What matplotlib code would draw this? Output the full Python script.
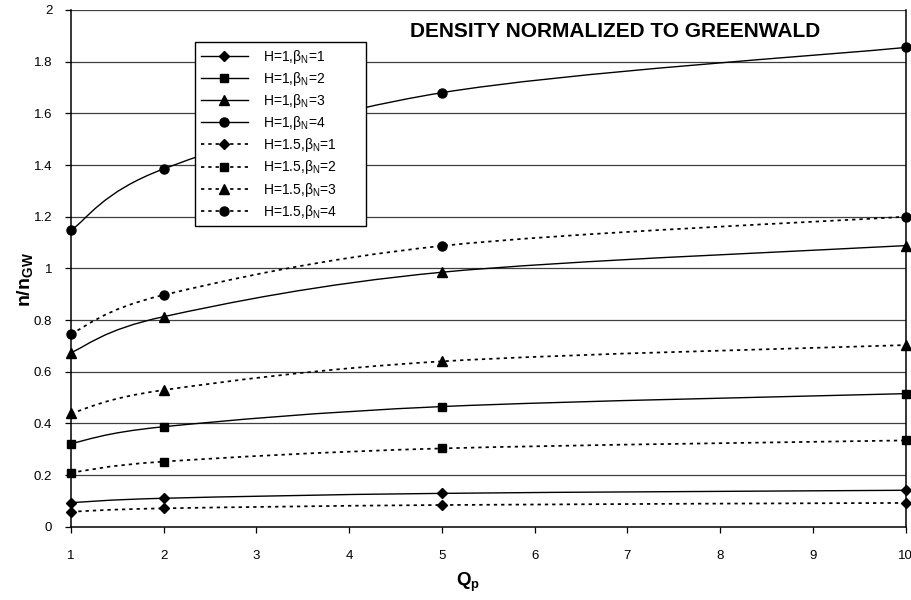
import matplotlib
matplotlib.use("Agg")
import matplotlib.pyplot as plt
from matplotlib.path import Path
from matplotlib.patches import PathPatch
from matplotlib.lines import Line2D

plt.rcParams['font.family'] = ['Liberation Sans', 'DejaVu Sans']

# Qp values and n/nGW
qp = [1, 2, 5, 10]
h1_b1 = [0.093, 0.110, 0.129, 0.141]
h1_b2 = [0.322, 0.387, 0.465, 0.515]
h1_b3 = [0.674, 0.813, 0.985, 1.088]
h1_b4 = [1.147, 1.385, 1.680, 1.855]
h15_b1 = [0.058, 0.071, 0.084, 0.092]
h15_b2 = [0.209, 0.252, 0.303, 0.334]
h15_b3 = [0.439, 0.529, 0.640, 0.703]
h15_b4 = [0.747, 0.897, 1.087, 1.200]

labels = ['H=1,β$_\\mathregular{N}$=1', 'H=1,β$_\\mathregular{N}$=2',
          'H=1,β$_\\mathregular{N}$=3', 'H=1,β$_\\mathregular{N}$=4',
          'H=1.5,β$_\\mathregular{N}$=1', 'H=1.5,β$_\\mathregular{N}$=2',
          'H=1.5,β$_\\mathregular{N}$=3', 'H=1.5,β$_\\mathregular{N}$=4']
series = [h1_b1, h1_b2, h1_b3, h1_b4, h15_b1, h15_b2, h15_b3, h15_b4]
markers = ['D', 's', '^', 'o'] * 2
msizes = {'D': 5.5, 's': 6, '^': 7, 'o': 6.5}
dotted = (0, (1.9, 2.3))
styles = ['-'] * 4 + [dotted] * 4
widths = [1.0] * 4 + [1.25] * 4


def smooth_path(x, y):
    # excel style smoothed line, bezier segments through the points
    pts = list(zip(x, y))
    verts = [pts[0]]
    codes = [Path.MOVETO]
    for i in range(len(pts) - 1):
        p0 = pts[i - 1] if i > 0 else pts[i]
        p1 = pts[i]
        p2 = pts[i + 1]
        p3 = pts[i + 2] if i + 2 < len(pts) else pts[i + 1]
        c1 = (p1[0] + (p2[0] - p0[0]) / 6, p1[1] + (p2[1] - p0[1]) / 6)
        c2 = (p2[0] - (p3[0] - p1[0]) / 6, p2[1] - (p3[1] - p1[1]) / 6)
        verts += [c1, c2, p2]
        codes += [Path.CURVE4] * 3
    return Path(verts, codes)


fig = plt.figure(figsize=(9.12, 6), dpi=100)
ax = fig.add_axes([71 / 912, 1 - 526.7 / 600, (905.7 - 71) / 912, (526.7 - 10) / 600])

ax.set_xlim(1, 10)
ax.set_ylim(0, 2)
ax.set_xticks(range(1, 11))
ax.set_yticks([0, 0.2, 0.4, 0.6, 0.8, 1, 1.2, 1.4, 1.6, 1.8, 2])
ax.set_yticklabels(['0', '0.2', '0.4', '0.6', '0.8', '1', '1.2', '1.4', '1.6', '1.8', '2'])
ax.tick_params(axis='x', direction='out', length=4, width=0.9, pad=13, labelsize=9.5)
ax.tick_params(axis='y', direction='out', length=4, width=0.9, pad=9.5, labelsize=9.5)

for v in [0.2, 0.4, 0.6, 0.8, 1, 1.2, 1.4, 1.6, 1.8, 2]:
    ax.axhline(v, color='#404040', lw=0.9, zorder=1)

for s in ['left', 'bottom', 'right']:
    ax.spines[s].set_linewidth(1.1)
    ax.spines[s].set_color('black')
ax.spines['top'].set_visible(False)

handles = []
for yv, mk, ls, lw, lab in zip(series, markers, styles, widths, labels):
    ax.add_patch(PathPatch(smooth_path(qp, yv), fill=False, edgecolor='black',
                           lw=lw, linestyle=ls, zorder=3))
    ax.plot(qp, yv, ls='none', marker=mk, ms=msizes[mk], color='black',
            zorder=4, clip_on=False)
    handles.append(Line2D([], [], color='black', lw=lw, linestyle=ls,
                          marker=mk, ms=msizes[mk]))

top = 1 - 42 / 600
leg = ax.legend(handles, labels, loc='upper left',
                bbox_to_anchor=(195 / 912, 0.5, (366 - 195) / 912, top - 0.5),
                bbox_transform=fig.transFigure, mode='expand',
                borderaxespad=0, fontsize=10, handlelength=3.4,
                handletextpad=1.1, labelspacing=0.3, borderpad=0.4,
                fancybox=False, framealpha=1, edgecolor='black')
leg.get_frame().set_linewidth(1.0)
leg.set_zorder(10)

ax.set_xlabel('Q$_\\mathregular{p}$', fontsize=13.5, fontweight='bold')
ax.xaxis.set_label_coords(0.476, -0.084)
ax.set_ylabel('n/n$_\\mathregular{GW}$', fontsize=14, fontweight='bold')
ax.yaxis.set_label_coords(-0.042, 0.479)

fig.text(615 / 912, 1 - 36.7 / 600, 'DENSITY NORMALIZED TO GREENWALD',
         ha='center', va='baseline', fontsize=15, fontweight='bold')

fig.savefig('out.png', dpi=100)
